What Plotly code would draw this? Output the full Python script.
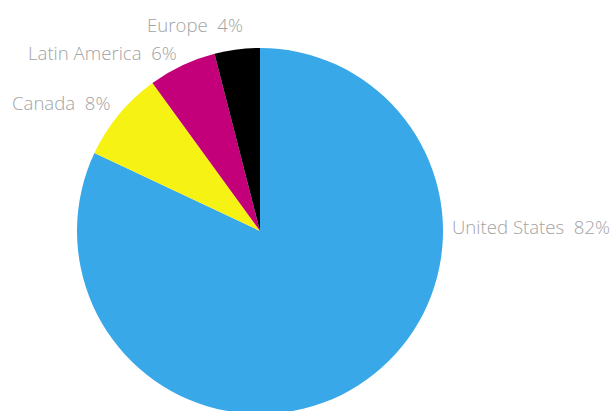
import plotly.graph_objects as go

regions = ["United States", "Canada", "Latin America", "Europe"]
shares = [82, 8, 6, 4]
colors = ["#38A8E8", "#F6F213", "#C3007A", "#000000"]
# label anchor positions (pixels from top-left) and anchor side for the outside text
label_px = [(612, 227), (10, 102.5), (26, 52.5), (145, 24.5)]
label_anchor = ["right", "left", "left", "left"]

W, H = 615, 440
cx, cy, r = 260, 231, 183

fig = go.Figure(go.Pie(
    labels=regions,
    values=shares,
    sort=False,
    direction="clockwise",
    rotation=0,
    marker=dict(colors=colors, line=dict(width=0)),
    textinfo="none",
    hoverinfo="label+percent",
    showlegend=False,
    domain=dict(x=[(cx - r) / W, (cx + r) / W], y=[1 - (cy + r) / H, 1 - (cy - r) / H]),
))

for name, val, (px, py), anc in zip(regions, shares, label_px, label_anchor):
    fig.add_annotation(
        x=px / W, y=1 - py / H, xref="paper", yref="paper",
        xanchor=anc, yanchor="middle", showarrow=False,
        text=f"{name}\u00a0 {val}%",
        font=dict(family="Open Sans", size=18.6, color="#A3A3A3", weight=300),
    )

fig.update_layout(
    width=W, height=H,
    margin=dict(l=0, r=0, t=0, b=0),
    paper_bgcolor="white", plot_bgcolor="white",
)

fig.write_html("out.html", config={"displayModeBar": False},
               post_script="document.body.style.margin='0';document.body.style.overflow='hidden';document.documentElement.style.overflow='hidden';")
